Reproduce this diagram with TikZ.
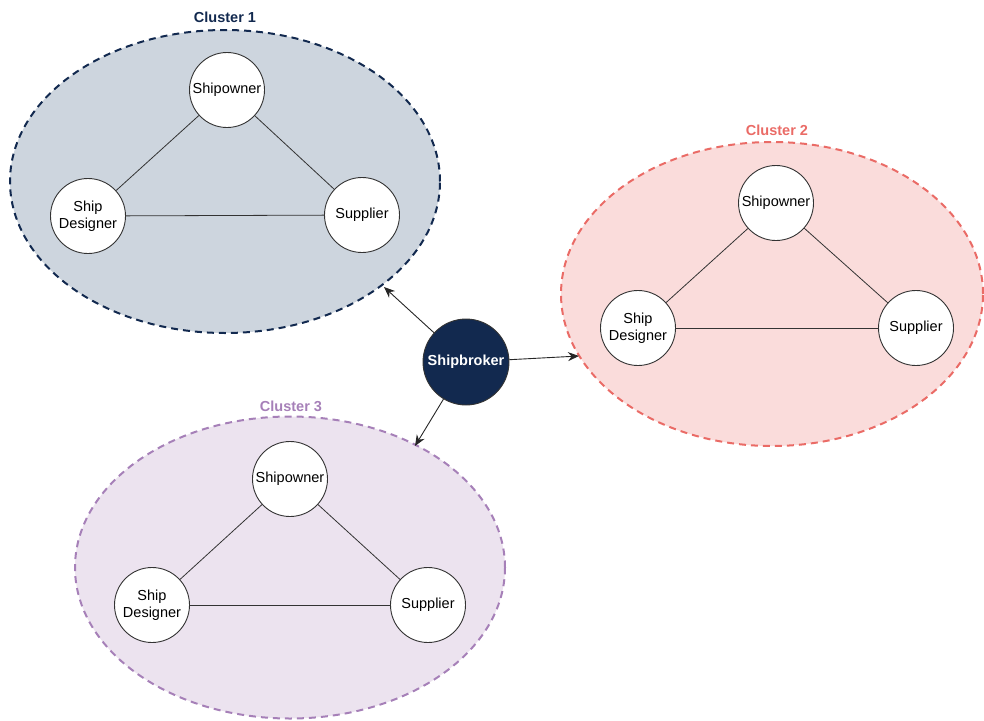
\documentclass[tikz,border=0pt]{standalone}
\usepackage{fontspec}
\setmainfont{Liberation Sans}
\usetikzlibrary{arrows.meta,shapes.geometric}
\definecolor{navy}{HTML}{12294F}
\definecolor{grayfill}{HTML}{CDD5DE}
\definecolor{redline}{HTML}{EA6B66}
\definecolor{redfill}{HTML}{FADCDB}
\definecolor{purpline}{HTML}{A680B8}
\definecolor{purpfill}{HTML}{ECE3EF}
\tikzset{
  cluster/.style={ellipse, draw, line width=2pt, dash pattern=on 7pt off 5pt},
  actor/.style={circle, draw=black!80, fill=white, line width=0.9pt, minimum size=75pt, inner sep=0pt, align=center, font=\fontsize{14.5}{17}\selectfont},
  broker/.style={circle, draw=black!80, fill=navy, line width=0.9pt, minimum size=86pt, inner sep=0pt, text=white, font=\fontsize{14.5}{17}\selectfont\bfseries},
  tag/.style={font=\fontsize{14.5}{17}\selectfont\bfseries},
  link/.style={draw=black!80, line width=0.8pt},
  push/.style={draw=black!85, line width=0.9pt, -{Stealth[length=11pt,width=9pt]}}
}
\begin{document}
\begin{tikzpicture}[x=1pt,y=-1pt]
\useasboundingbox (0,0) rectangle (984,720);
% clusters
\node[cluster, draw=navy, fill=grayfill, minimum width=430pt, minimum height=303pt] (c1) at (225,181.5) {};
\node[cluster, draw=redline, fill=redfill, minimum width=422pt, minimum height=304pt] (c2) at (772,294) {};
\node[cluster, draw=purpline, fill=purpfill, minimum width=430pt, minimum height=302pt] (c3) at (290,567.5) {};
\node[tag, text=navy] (t1) at (225,17) {Cluster 1};
\node[tag, text=redline] (t2) at (777,130) {Cluster 2};
\node[tag, text=purpline] (t3) at (291,406) {Cluster 3};
% cluster 1
\node[actor] (o1) at (227,90) {Shipowner};
\node[actor] (d1) at (88,216) {Ship\\Designer};
\node[actor] (s1) at (362,215) {Supplier};
% cluster 2
\node[actor] (o2) at (776,203) {Shipowner};
\node[actor] (d2) at (638,328) {Ship\\Designer};
\node[actor] (s2) at (916,328) {Supplier};
% cluster 3
\node[actor] (o3) at (290,479) {Shipowner};
\node[actor] (d3) at (152,605) {Ship\\Designer};
\node[actor] (s3) at (428,605) {Supplier};
\foreach \i in {1,2,3}{
  \draw[link] (o\i) -- (d\i);
  \draw[link] (o\i) -- (s\i);
  \draw[link] (d\i) -- (s\i);
}
% broker
\node[broker] (sb) at (466,362) {Shipbroker};
\coordinate (e1) at (384,287);
\coordinate (e2) at (579,356);
\coordinate (e3) at (415,446);
\draw[push] (sb) -- (e1);
\draw[push] (sb) -- (e2);
\draw[push] (sb) -- (e3);
\end{tikzpicture}
\end{document}
